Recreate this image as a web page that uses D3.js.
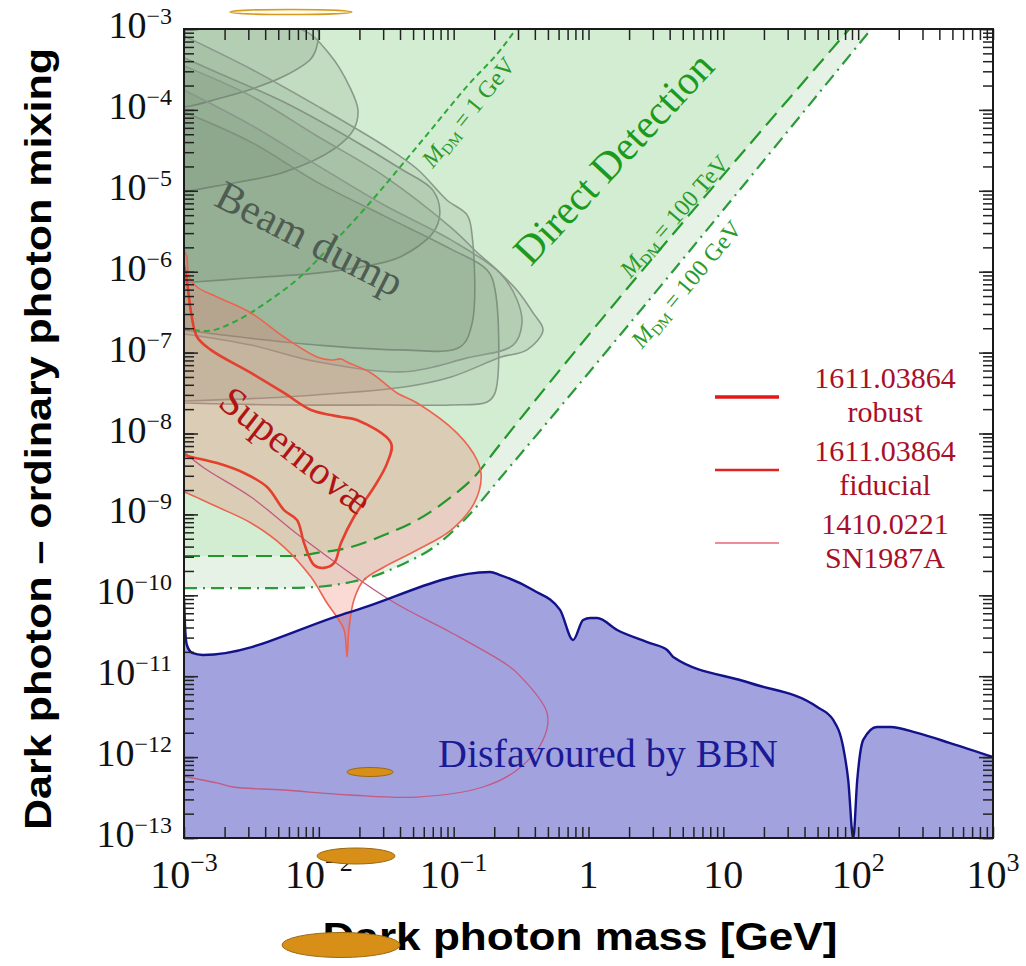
<!DOCTYPE html>
<html>
<head>
<meta charset="utf-8">
<script src="https://cdn.jsdelivr.net/npm/d3@7"></script>
<style>
body{margin:0;background:#fff;}
svg{display:block;}
</style>
</head>
<body>
<svg id="chart" width="1026" height="966"></svg>
<script>
// ---- data (mass in GeV, mixing) ----
const bbnBound = [[1e-3,9.3e-11],[1.017e-3,4.3e-11],[1.05e-3,2.43e-11],[1.15e-3,1.94e-11],[1.38e-3,1.83e-11],
  [1.7e-2,6.2e-11],[0.186,1.94e-10],[0.221,1.78e-10],[0.388,1.16e-10],[0.615,6.6e-11],[0.769,2.8e-11],
  [0.912,4.95e-11],[1.03,5.24e-11],[1.16,5.24e-11],[1.63,3.73e-11],[2.86,2.57e-11],[3.83,2.11e-11],
  [4.25,1.73e-11],[15.8,8.24e-12],[49.7,4.16e-12],[65.3,2.88e-12],[77.4,1.33e-12],[84.4,5.2e-13],
  [91.9,1e-13],[98.4,5.2e-13],[109,1.63e-12],[138,2.36e-12],[173,2.36e-12],[274,1.99e-12],[481,1.49e-12],[1000,1.0e-12]];

const dd100TeV = [[1e-3,3.06e-10],[6.55e-3,3.06e-10],[9.7e-3,3.34e-10],[1.73e-2,3.95e-10],[3.05e-2,5.56e-10],
  [5.36e-2,8.53e-10],[9.57e-2,1.64e-9],[0.142,2.9e-9],[0.21,6.62e-9],[86,1e-3]];
const dd100GeV = [[1e-3,1.23e-10],[5.5e-3,1.23e-10],[9.7e-3,1.27e-10],[1.73e-2,1.46e-10],[2.44e-2,1.68e-10],
  [4.07e-2,2.37e-10],[7.16e-2,3.95e-10],[0.126,9.29e-10],[0.225,2.9e-9],[125,1e-3]];
const dd1GeV = [[1e-3,2.0e-7],[1.48e-3,1.85e-7],[2.35e-3,2.39e-7],[4.13e-3,4.22e-7],[7.38e-3,8.85e-7],
  [1.3e-2,2.33e-6],[2.28e-2,6.49e-6],[4.07e-2,2.03e-5],[7.16e-2,6.32e-5],[0.126,1.97e-4],[0.225,5.66e-4],[0.29,1e-3]];

const beamDumpA = [[1e-3,1e-3],[9.7e-3,1e-3],[9.7e-3,6.3e-4],[8.75e-3,4.3e-4],[5.5e-3,2.6e-4],[3.14e-3,1.8e-4],[1.76e-3,1.36e-4],[1.13e-3,1.12e-4],[1e-3,1.09e-4]];
const beamDumpB = [[1e-3,1e-3],[7.3e-3,1e-3],[1.21e-2,4.8e-4],[1.7e-2,1.9e-4],[1.95e-2,1.0e-4],[1.82e-2,5.8e-5],[1.3e-2,3.3e-5],[5.5e-3,1.7e-5],[1.76e-3,1.15e-5],[1e-3,9.7e-6]];
const beamDumpC = [[1e-3,4.4e-4],[1.76e-3,2.9e-4],[5.5e-3,1.25e-4],[1.73e-2,4.4e-5],[4.07e-2,1.86e-5],[7.0e-2,1.02e-5],[7.9e-2,5.3e-6],[7.0e-2,3.0e-6],[4.0e-2,1.52e-6],[2.28e-2,1.18e-6],[9.7e-3,9.6e-7],[3.14e-3,8.4e-7],[1e-3,7.3e-7]];
const beamDumpD = [[1e-3,8.2e-4],[3.14e-3,3.2e-4],[9.7e-3,1.12e-4],[3.05e-2,3.6e-5],[5.36e-2,1.86e-5],[8.9e-2,7.7e-6],[0.126,5.0e-6],[0.137,2.8e-6],[0.137,2.3e-7],[0.111,1.17e-7],[4.0e-2,1.08e-7],[9.7e-3,1.24e-7],[3.14e-3,1.5e-7],[1e-3,1.9e-7]];
const beamDumpE = [[1e-3,9.4e-5],[3.14e-3,4.0e-5],[9.7e-3,1.28e-5],[3.05e-2,4.9e-6],[9.57e-2,1.9e-6],[0.177,1.05e-6],[0.203,5.9e-7],[0.203,3.2e-8],[0.177,2.45e-8],[9.57e-2,2.25e-8],[3.05e-2,2.25e-8],[5.5e-3,2.25e-8],[1e-3,2.38e-8]];
const beamDumpF = [[1e-3,3.5e-4],[3.14e-3,1.49e-4],[9.7e-3,4.75e-5],[3.05e-2,1.52e-5],[9.57e-2,3.5e-6],[0.157,1.6e-6],[0.21,1.05e-6],[0.295,5.9e-7],[0.388,3.1e-7],[0.46,1.9e-7],[0.35,1.08e-7],[0.225,8.8e-8],[9.57e-2,5.0e-8],[4.3e-2,3.76e-8],[5.5e-3,2.83e-8],[1e-3,2.52e-8]];
const beamDumpG = [[1e-3,1.76e-4],[3.14e-3,6.5e-5],[9.7e-3,2.08e-5],[3.05e-2,6.67e-6],[9.57e-2,2.47e-6],[0.221,9.6e-7],[0.295,4.5e-7],[0.321,2.3e-7],[0.276,1.24e-7],[0.126,8.6e-8],[4.3e-2,5.8e-8],[9.7e-3,7.7e-8],[3.14e-3,1.24e-7],[1e-3,1.7e-7]];

const snFiducial = [[1e-3,1.85e-6],[1.05e-3,1.52e-6],[1.09e-3,8.6e-7],[1.25e-3,6.47e-7],[1.76e-3,4.87e-7],[3.14e-3,3.09e-7],
  [5.52e-3,1.56e-7],[9.7e-3,8.83e-8],[1.23e-2,8.1e-8],[1.46e-2,8.34e-8],[1.62e-2,7.65e-8],[2.44e-2,5.6e-8],[3.8e-2,3.17e-8],
  [5.36e-2,2.38e-8],[0.106,1.01e-8],[0.149,4.7e-9],[0.16,2.9e-9],[0.142,1.38e-9],[9.57e-2,6.41e-10],[5.36e-2,3.63e-10],
  [3.05e-2,2.24e-10],[2.16e-2,1.55e-10],[1.82e-2,8.75e-11],[1.67e-2,3.73e-11],[1.62e-2,1.73e-11],[1.54e-2,3.73e-11],
  [1.36e-2,5.39e-11],[1.15e-2,8.03e-11],[8.75e-3,1.68e-10],[5.52e-3,3.95e-10],[3.14e-3,7.83e-10],[1.76e-3,1.24e-9],[1.05e-3,1.84e-9],[1e-3,1.9e-9]];
const snRobust = [[1e-3,1.21e-6],[1.05e-3,7.9e-7],[1.13e-3,3.09e-7],[1.25e-3,1.56e-7],[1.58e-3,1.08e-7],[3.14e-3,5.6e-8],
  [5.52e-3,3.17e-8],[8.75e-3,1.95e-8],[1.23e-2,1.69e-8],[1.46e-2,1.6e-8],[1.92e-2,1.47e-8],[3.43e-2,7.63e-9],[3.21e-2,4.31e-9],
  [2.57e-2,2.18e-9],[1.82e-2,9.29e-10],[1.46e-2,4.43e-10],[1.3e-2,2.51e-10],[1.09e-2,2.18e-10],[9.21e-3,2.37e-10],
  [7.77e-3,4.43e-10],[6.89e-3,8.53e-10],[5.52e-3,1.13e-9],[4.13e-3,2.18e-9],[2.79e-3,3.25e-9],[1.76e-3,4.31e-9],[1.13e-3,5.13e-9],[1e-3,5.42e-9]];
const sn1987a = [[1e-3,5.9e-9],[1.41e-3,3.75e-9],[3.14e-3,1.64e-9],[7.38e-3,5.26e-10],[3.37e-2,8.75e-11],[9.4e-2,3.52e-11],
  [0.237,1.46e-11],[0.295,1.1e-11],[0.493,3.51e-12],[0.46,1.63e-12],[0.295,6.93e-13],[0.165,4.27e-13],[5.36e-2,3.21e-13],
  [1.7e-2,3.4e-13],[5.42e-3,3.92e-13],[2.31e-3,4.27e-13],[1.76e-3,4.79e-13],[1.05e-3,5.68e-13],[1e-3,5.83e-13]];

const xMajor = [1e-3,1e-2,1e-1,1,10,100,1000];
const xBase  = ['10','10','10','1','10','10','10'];
const xExp   = ['−3','−2','−1','','','2','3'];
const yMajor = [1e-3,1e-4,1e-5,1e-6,1e-7,1e-8,1e-9,1e-10,1e-11,1e-12,1e-13];
const yExp   = ['−3','−4','−5','−6','−7','−8','−9','−10','−11','−12','−13'];

const legendLabels = [['1611.03864','robust'],['1611.03864','fiducial'],['1410.0221','SN1987A']];

// ---- layout ----
const M = {left:184, right:993, top:29, bottom:838};
const x = d3.scaleLog().domain([1e-3,1e3]).range([M.left, M.right]);
const y = d3.scaleLog().domain([1e-13,1e-3]).range([M.bottom, M.top]);

const svg = d3.select('#chart');
svg.append('rect').attr('width',1026).attr('height',966).attr('fill','#fff');

svg.append('defs').append('clipPath').attr('id','clip').append('rect')
  .attr('x',M.left).attr('y',M.top).attr('width',M.right-M.left).attr('height',M.bottom-M.top);

const g = svg.append('g').attr('clip-path','url(#clip)');

const mono = d3.line().x(d=>x(d[0])).y(d=>y(d[1])).curve(d3.curveMonotoneX);
const smooth = d3.line().x(d=>x(d[0])).y(d=>y(d[1])).curve(d3.curveCatmullRom.alpha(0.5));

// direct detection regions
g.append('path').attr('d', mono(dd100GeV) + 'L' + x(1e-3) + ',' + y(1e-3) + 'Z').attr('fill','#e7f2e7');
g.append('path').attr('d', mono(dd100TeV) + 'L' + x(1e-3) + ',' + y(1e-3) + 'Z').attr('fill','#d3edd3');

// beam dump
[beamDumpA,beamDumpB,beamDumpC,beamDumpD,beamDumpE,beamDumpF,beamDumpG].forEach(s=>{
  g.append('path').attr('d', smooth(s)+'Z')
    .attr('fill','rgba(100,125,100,0.15)')
    .attr('stroke','#8a998a').attr('stroke-width',1.6);
});

// BBN fill
g.append('path').attr('d', mono(bbnBound) + 'L' + x(1e3) + ',' + y(1e-13) + 'L' + x(1e-3) + ',' + y(1e-13) + 'Z')
  .attr('fill','#a2a2de');

// supernova fill
g.append('path').attr('d', smooth(snFiducial)+'Z').attr('fill','rgba(240,120,105,0.28)');

// DM lines
g.append('path').attr('d', mono(dd1GeV)).attr('fill','none').attr('stroke','#2fa83a').attr('stroke-width',2).attr('stroke-dasharray','6,4');
g.append('path').attr('d', mono(dd100TeV)).attr('fill','none').attr('stroke','#22982a').attr('stroke-width',2.2).attr('stroke-dasharray','16,8');
g.append('path').attr('d', mono(dd100GeV)).attr('fill','none').attr('stroke','#2a9a3a').attr('stroke-width',2.2).attr('stroke-dasharray','13,6,2,6');

// supernova contours
g.append('path').attr('d', smooth(sn1987a)).attr('fill','none').attr('stroke','#c25a82').attr('stroke-width',1.3);
g.append('path').attr('d', smooth(snFiducial)).attr('fill','none').attr('stroke','#ec6450').attr('stroke-width',1.6);
g.append('path').attr('d', smooth(snRobust)).attr('fill','none').attr('stroke','#e4402e').attr('stroke-width',2.6);

// BBN line
g.append('path').attr('d', mono(bbnBound)).attr('fill','none').attr('stroke','#12128a').attr('stroke-width',2.4);

// ---- annotations ----
const serif = '"Liberation Serif","Times New Roman",serif';
function rotText(str, cx, cy, ang, size, color){
  return svg.append('text').attr('transform',`translate(${cx},${cy}) rotate(${ang})`)
    .attr('text-anchor','middle').attr('dy','0.35em')
    .attr('font-family',serif).attr('font-size',size).attr('fill',color).text(str);
}
rotText('Beam dump', 310, 238, 27, 42, '#4f5c52');
rotText('Supernovæ', 296, 450, 38, 40, '#b01414');
rotText('Direct Detection', 613, 158, -47, 41, '#1c9a1c');

function mdmText(val, cx, cy, ang){
  const t = svg.append('text').attr('transform',`translate(${cx},${cy}) rotate(${ang})`)
    .attr('text-anchor','middle').attr('dy','0.35em')
    .attr('font-family',serif).attr('font-size',24).attr('fill','#2a9a2a');
  t.append('tspan').attr('font-style','italic').text('M');
  t.append('tspan').attr('font-size',15).attr('dy',4).text('DM');
  t.append('tspan').attr('dy',-4).text(' = ' + val);
}
mdmText('1 GeV', 468, 112, -51);
mdmText('100 TeV', 674, 216, -49);
mdmText('100 GeV', 686, 284, -50);

svg.append('text').attr('x',608).attr('y',767).attr('text-anchor','middle')
  .attr('font-family',serif).attr('font-size',40).attr('fill','#1a1a96').text('Disfavoured by BBN');

// legend
const legW = [3.6,2.6,1.6], legC = ['#e01818','#e02222','#e86678'];
legendLabels.forEach((l,i)=>{
  const cy = 397 + i*73;
  svg.append('line').attr('x1',715).attr('x2',779).attr('y1',cy).attr('y2',cy)
    .attr('stroke',legC[i]).attr('stroke-width',legW[i]);
  svg.append('text').attr('x',885).attr('y',cy-9).attr('text-anchor','middle')
    .attr('font-family',serif).attr('font-size',30).attr('fill','#a8102a').text(l[0]);
  svg.append('text').attr('x',885).attr('y',cy+25).attr('text-anchor','middle')
    .attr('font-family',serif).attr('font-size',30).attr('fill','#a8102a').text(l[1]);
});

// ---- axes / frame ----
const xt = x.ticks(30), yt = y.ticks(40);
function noDomain(s){ s.select('.domain').remove(); s.selectAll('line').attr('stroke','#222').attr('stroke-width',1.5); }
svg.append('g').attr('transform',`translate(0,${M.bottom})`)
  .call(d3.axisBottom(x).tickValues(xt).tickSizeInner(-11).tickSizeOuter(0).tickFormat('')).call(noDomain);
svg.append('g').attr('transform',`translate(0,${M.top})`)
  .call(d3.axisTop(x).tickValues(xt).tickSizeInner(-11).tickSizeOuter(0).tickFormat('')).call(noDomain);
svg.append('g').attr('transform',`translate(${M.left},0)`)
  .call(d3.axisLeft(y).tickValues(yt).tickSizeInner(-10).tickSizeOuter(0).tickFormat('')).call(noDomain);
svg.append('g').attr('transform',`translate(${M.left},0)`)
  .call(d3.axisLeft(y).tickValues(yMajor).tickSizeInner(-14).tickSizeOuter(0).tickFormat('')).call(noDomain);
svg.append('g').attr('transform',`translate(${M.right},0)`)
  .call(d3.axisRight(y).tickValues(yt).tickSizeInner(-10).tickSizeOuter(0).tickFormat('')).call(noDomain);
svg.append('g').attr('transform',`translate(${M.right},0)`)
  .call(d3.axisRight(y).tickValues(yMajor).tickSizeInner(-14).tickSizeOuter(0).tickFormat('')).call(noDomain);

svg.append('rect').attr('x',M.left).attr('y',M.top).attr('width',M.right-M.left).attr('height',M.bottom-M.top)
  .attr('fill','none').attr('stroke','#1a1a1a').attr('stroke-width',2);

// tick labels
xMajor.forEach((v,i)=>{
  const t = svg.append('text').attr('x',x(v)).attr('y',888).attr('text-anchor','middle')
    .attr('font-family',serif).attr('font-size',40).attr('fill','#111');
  t.append('tspan').text(xBase[i]);
  if (xExp[i]) t.append('tspan').attr('font-size',26).attr('dy',-17).text(xExp[i]);
});
yMajor.forEach((v,i)=>{
  const t = svg.append('text').attr('x',172).attr('y',y(v)+9).attr('text-anchor','end')
    .attr('font-family',serif).attr('font-size',38).attr('fill','#111');
  t.append('tspan').text('10');
  t.append('tspan').attr('font-size',24).attr('dy',-14).text(yExp[i]);
});

// axis titles
svg.append('text').attr('x',580).attr('y',950).attr('text-anchor','middle')
  .attr('font-family','"Liberation Sans",Arial,sans-serif').attr('font-weight','bold').attr('font-size',38)
  .attr('textLength',515).attr('lengthAdjust','spacingAndGlyphs').attr('fill','#000')
  .text('Dark photon mass [GeV]');
svg.append('text').attr('transform','translate(38,439) rotate(-90)').attr('text-anchor','middle').attr('dy','0.35em')
  .attr('font-family','"Liberation Sans",Arial,sans-serif').attr('font-weight','bold').attr('font-size',36)
  .attr('textLength',782).attr('lengthAdjust','spacingAndGlyphs').attr('fill','#000')
  .text('Dark photon – ordinary photon mixing');

// overlay marks present in the picture
svg.append('ellipse').attr('cx',291).attr('cy',12).attr('rx',61).attr('ry',2.6)
  .attr('fill','#fffbe8').attr('stroke','#d49a22').attr('stroke-width',1.5);
[[370,772,23,4.5],[356,856,39,8],[341,945,59,12.5]].forEach(e=>{
  svg.append('ellipse').attr('cx',e[0]).attr('cy',e[1]).attr('rx',e[2]).attr('ry',e[3])
    .attr('fill','#d88f17').attr('stroke','#9a6814').attr('stroke-width',1);
});
</script>
</body>
</html>
